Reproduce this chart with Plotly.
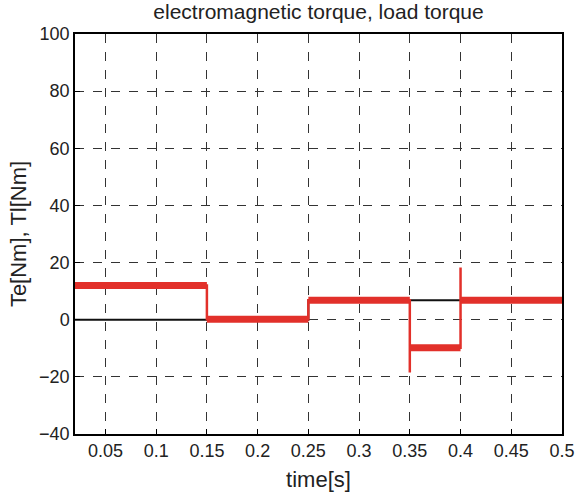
import plotly.graph_objects as go

# Electromagnetic torque Te: piecewise levels (start, end, level)
te_seg_start = [0.02, 0.15, 0.25, 0.35, 0.40]
te_seg_end = [0.15, 0.25, 0.35, 0.40, 0.50]
te_seg_level = [12.0, 0.2, 6.8, -9.8, 6.8]
# Transient peaks at the switching instants (time, peak)
te_peak_time = [0.35, 0.40]
te_peak_value = [-18.5, 18.3]

# Load torque Tl
tl_time = [0.02, 0.25, 0.25, 0.50]
tl_value = [0.0, 0.0, 6.8, 6.8]

x_ticks = [0.05, 0.1, 0.15, 0.2, 0.25, 0.3, 0.35, 0.4, 0.45, 0.5]
x_ticklabels = ["0.05", "0.1", "0.15", "0.2", "0.25", "0.3", "0.35", "0.4", "0.45", "0.5"]
y_ticks = [-40, -20, 0, 20, 40, 60, 80, 100]

RED = "#E2302A"
FONT = "Liberation Sans, Arial, sans-serif"

fig = go.Figure()

# load torque (black)
fig.add_trace(go.Scatter(x=tl_time, y=tl_value, mode="lines",
                         line=dict(color="#111111", width=2), showlegend=False))

# thin connecting step line for Te (including transient peaks)
tx, ty = [], []
for s, e, lv in zip(te_seg_start, te_seg_end, te_seg_level):
    if s in te_peak_time:
        tx.append(s)
        ty.append(te_peak_value[te_peak_time.index(s)])
    tx += [s, e]
    ty += [lv, lv]
fig.add_trace(go.Scatter(x=tx, y=ty, mode="lines",
                         line=dict(color=RED, width=2.5), showlegend=False))

# thick noisy-looking horizontal bands
for s, e, lv in zip(te_seg_start, te_seg_end, te_seg_level):
    fig.add_trace(go.Scatter(x=[s, e], y=[lv, lv], mode="lines",
                             line=dict(color=RED, width=7), showlegend=False))

axis_common = dict(
    showline=True, linecolor="black", linewidth=1.5, mirror=True,
    ticks="inside", ticklen=5, tickcolor="black",
    showgrid=True, gridcolor="#333333", gridwidth=1, griddash="dash",
    zeroline=False, automargin=False,
    tickfont=dict(family=FONT, size=18, color="#222222"),
)

fig.update_layout(
    width=582, height=496,
    margin=dict(l=75, r=20, t=34, b=62),
    plot_bgcolor="white", paper_bgcolor="white",
    font=dict(family=FONT, color="#222222"),
    title=dict(text="electromagnetic torque, load torque", x=0.5, xref="paper",
               xanchor="center", y=0.992, yref="container", yanchor="top",
               font=dict(family=FONT, size=21, color="#222222")),
    xaxis=dict(range=[0.02, 0.5], tickvals=x_ticks, ticktext=x_ticklabels,
               title=dict(text="time[s]", font=dict(family=FONT, size=22), standoff=11),
               **axis_common),
    yaxis=dict(range=[-40, 100], tickvals=y_ticks,
               title=dict(text="Te[Nm], Tl[Nm]", font=dict(family=FONT, size=22), standoff=6),
               **axis_common),
)

fig.write_html("out.html")
